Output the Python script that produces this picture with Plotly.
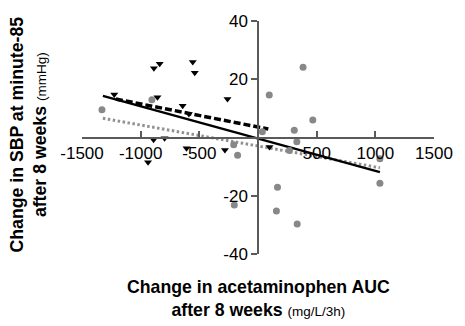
import plotly.graph_objects as go

# Change in acetaminophen AUC (mg/L/3h) vs change in SBP at minute-85 (mmHg)
tri_x = [-1225, -887, -838, -857, -556, -539, -642, -589, -260, -890, -796, -609, -282, -937, 98]
tri_y = [14.8, 23.8, 25.3, 13.8, 25.9, 22.2, 10.9, 8.1, 13.2, -0.8, -0.3, -3.7, -4.3, -8.5, -3.3]

circ_x = [-1330, -904, -207, -174, 37, 96, 384, 467, 309, 331, 268, 1039, 1039, -202, 166, 157, 334]
circ_y = [9.5, 13.0, -2.5, -6.1, 2.0, 14.6, 24.1, 6.0, 2.5, -1.5, -4.5, -7.3, -15.7, -23.2, -17.1, -25.2, -29.7]

# Fitted regression lines (end points)
fit_all_x = [-1322, 1039]
fit_all_y = [14.3, -11.9]
fit_tri_x = [-1211, 88]
fit_tri_y = [13.2, 2.9]
fit_circ_x = [-1322, 1039]
fit_circ_y = [6.6, -10.4]

x_ticks = [-1500, -1000, -500, 500, 1000, 1500]
y_ticks = [-40, -20, 20, 40]

FONT = "Arial, Liberation Sans, sans-serif"

fig = go.Figure()
fig.add_trace(go.Scatter(x=fit_circ_x, y=fit_circ_y, mode="lines",
                         line=dict(color="#919191", width=3, dash="2.5px,2.5px")))
fig.add_trace(go.Scatter(x=fit_all_x, y=fit_all_y, mode="lines",
                         line=dict(color="black", width=2.5)))
fig.add_trace(go.Scatter(x=fit_tri_x, y=fit_tri_y, mode="lines",
                         line=dict(color="black", width=3.5, dash="7px,3px")))
fig.add_trace(go.Scatter(x=circ_x, y=circ_y, mode="markers",
                         marker=dict(symbol="circle", size=7, color="#888888")))
fig.add_trace(go.Scatter(x=tri_x, y=tri_y, mode="markers",
                         marker=dict(symbol="triangle-down", size=7, color="black")))

axis_common = dict(showgrid=False, zeroline=False, showline=True,
                   linecolor="#5a5a5a", linewidth=1.5, tickcolor="#5a5a5a",
                   tickwidth=1.5, ticklen=6,
                   tickfont=dict(family=FONT, size=17, color="black"),
                   anchor="free", position=0.5)

fig.update_layout(
    width=465, height=326, autosize=False,
    margin=dict(l=82, r=21, t=14, b=72),
    paper_bgcolor="white", plot_bgcolor="white",
    showlegend=False,
    xaxis=dict(range=[-1500, 1500], tickvals=x_ticks,
               ticktext=[str(v) for v in x_ticks], ticks="inside", **axis_common),
    yaxis=dict(range=[-40, 40], tickvals=y_ticks,
               ticktext=[str(v) for v in y_ticks], ticks="outside", **axis_common),
    annotations=[
        dict(text="<b>Change in acetaminophen AUC</b><br><b>after 8 weeks</b> "
                  "<span style='font-size:13.5px'>(mg/L/3h)</span>",
             xref="paper", yref="paper", x=0.5, y=0, xanchor="center",
             yanchor="middle", yshift=-44, showarrow=False,
             font=dict(family=FONT, size=17.7, color="black")),
        dict(text="<b>Change in SBP at minute-85</b><br><b>after 8 weeks</b> "
                  "<span style='font-size:13.5px'>(mmHg)</span>",
             xref="paper", yref="paper", x=0, y=0.5, xanchor="center",
             yanchor="middle", xshift=-54, yshift=3, textangle=-90,
             showarrow=False,
             font=dict(family=FONT, size=17.7, color="black")),
    ],
)

fig.write_html("out.html")
